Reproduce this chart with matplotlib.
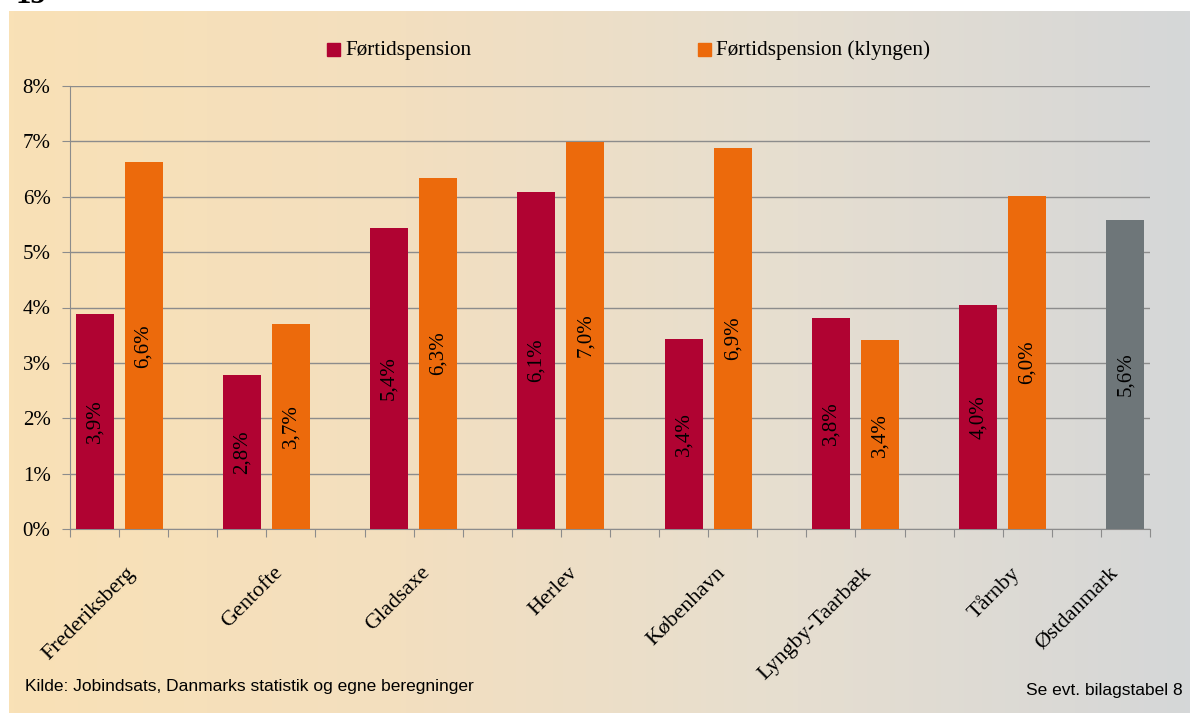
import numpy as np
import matplotlib
matplotlib.use("Agg")
import matplotlib.pyplot as plt
from matplotlib.patches import Rectangle
from matplotlib.colors import LinearSegmentedColormap

# data
kommuner = ["Frederiksberg", "Gentofte", "Gladsaxe", "Herlev",
            "København", "Lyngby-Taarbæk", "Tårnby"]
foertid = [3.88, 2.78, 5.44, 6.08, 3.43, 3.81, 4.04]
klyngen = [6.62, 3.70, 6.34, 6.99, 6.88, 3.41, 6.01]
oest_label = "Østdanmark"
oest_value = 5.58
yticks = [0, 1, 2, 3, 4, 5, 6, 7, 8]

RED = "#B00332"
ORANGE = "#EC6A0C"
GREY = "#6E7679"
SERIF = "Liberation Serif"

W, H = 1190, 713
fig = plt.figure(figsize=(W / 100, H / 100), dpi=100)

# gradient panel background
bg = fig.add_axes([9 / W, 0, 1 - 9 / W, 1 - 11 / H], zorder=-10)
cmap = LinearSegmentedColormap.from_list(
    "bg", ["#F9E1B6", "#F3DFBF", "#E6DED0", "#D5D7D8"])
bg.imshow(np.linspace(0, 1, 256)[None, :], aspect="auto", cmap=cmap,
          extent=[0, 1, 0, 1])
bg.axis("off")

fig.text(15 / W, 1 - 3 / H, "15", family=SERIF, fontweight="bold",
         fontsize=22, va="baseline", ha="left")

ax = fig.add_axes([70 / W, 184 / H, 1080 / W, 443 / H])
ax.patch.set_alpha(0)

n_slots = 3 * len(kommuner) + 1
bw = 38 / 49.1
red_x = [3 * i + 0.5 for i in range(len(kommuner))]
org_x = [3 * i + 1.5 for i in range(len(kommuner))]
grey_x = n_slots - 0.5

ax.bar(red_x, foertid, width=bw, color=RED, zorder=3)
ax.bar(org_x, klyngen, width=bw, color=ORANGE, zorder=3)
ax.bar([grey_x], [oest_value], width=bw, color=GREY, zorder=3)

def lbl(v):
    return f"{v:.1f}".replace(".", ",") + "%"

for xs, vals in [(red_x, foertid), (org_x, klyngen), ([grey_x], [oest_value])]:
    for x, v in zip(xs, vals):
        ax.text(x, v / 2, lbl(v), rotation=90, ha="center", va="center",
                family=SERIF, fontsize=15, zorder=4)

ax.set_xlim(0, n_slots)
ax.set_ylim(0, 8)
ax.set_yticks(yticks)
ax.set_yticklabels([f"{t}%" for t in yticks], family=SERIF, fontsize=15)
ax.grid(axis="y", color="#8C8C8C", linewidth=1, zorder=0)
ax.tick_params(axis="y", length=6, color="#8C8C8C", pad=8)

ax.set_xticks(range(n_slots + 1))
ax.set_xticklabels([])
ax.tick_params(axis="x", length=6, color="#8C8C8C", direction="out")
for s in ["top", "right"]:
    ax.spines[s].set_visible(False)
for s in ["left", "bottom"]:
    ax.spines[s].set_color("#8C8C8C")

# rotated category labels
lab_pos = org_x + [grey_x]
trans = matplotlib.transforms.blended_transform_factory(ax.transData, fig.transFigure)
for x, name in zip(lab_pos, kommuner + [oest_label]):
    ax.text(x - 0.22, 1 - 570 / H, name, rotation=45, rotation_mode="anchor",
            ha="right", va="center", family=SERIF, fontsize=16,
            transform=trans)

# legend
for lx, col, txt in [(327, RED, "Førtidspension"),
                     (698, ORANGE, "Førtidspension (klyngen)")]:
    fig.patches.append(Rectangle((lx / W, 1 - 56 / H), 13 / W, 13 / H,
                                 transform=fig.transFigure, color=col))
    fig.text((lx + 18) / W, 1 - 50 / H, txt, family=SERIF, fontsize=15.3,
             va="center", ha="left")

fig.text(25 / W, 1 - 687 / H, "Kilde: Jobindsats, Danmarks statistik og egne beregninger",
         family="Liberation Sans", fontsize=12.5, va="center", ha="left")
fig.text(1183 / W, 1 - 690 / H, "Se evt. bilagstabel 8",
         family="Liberation Sans", fontsize=12.5, va="center", ha="right")

fig.savefig("out.png", dpi=100)
